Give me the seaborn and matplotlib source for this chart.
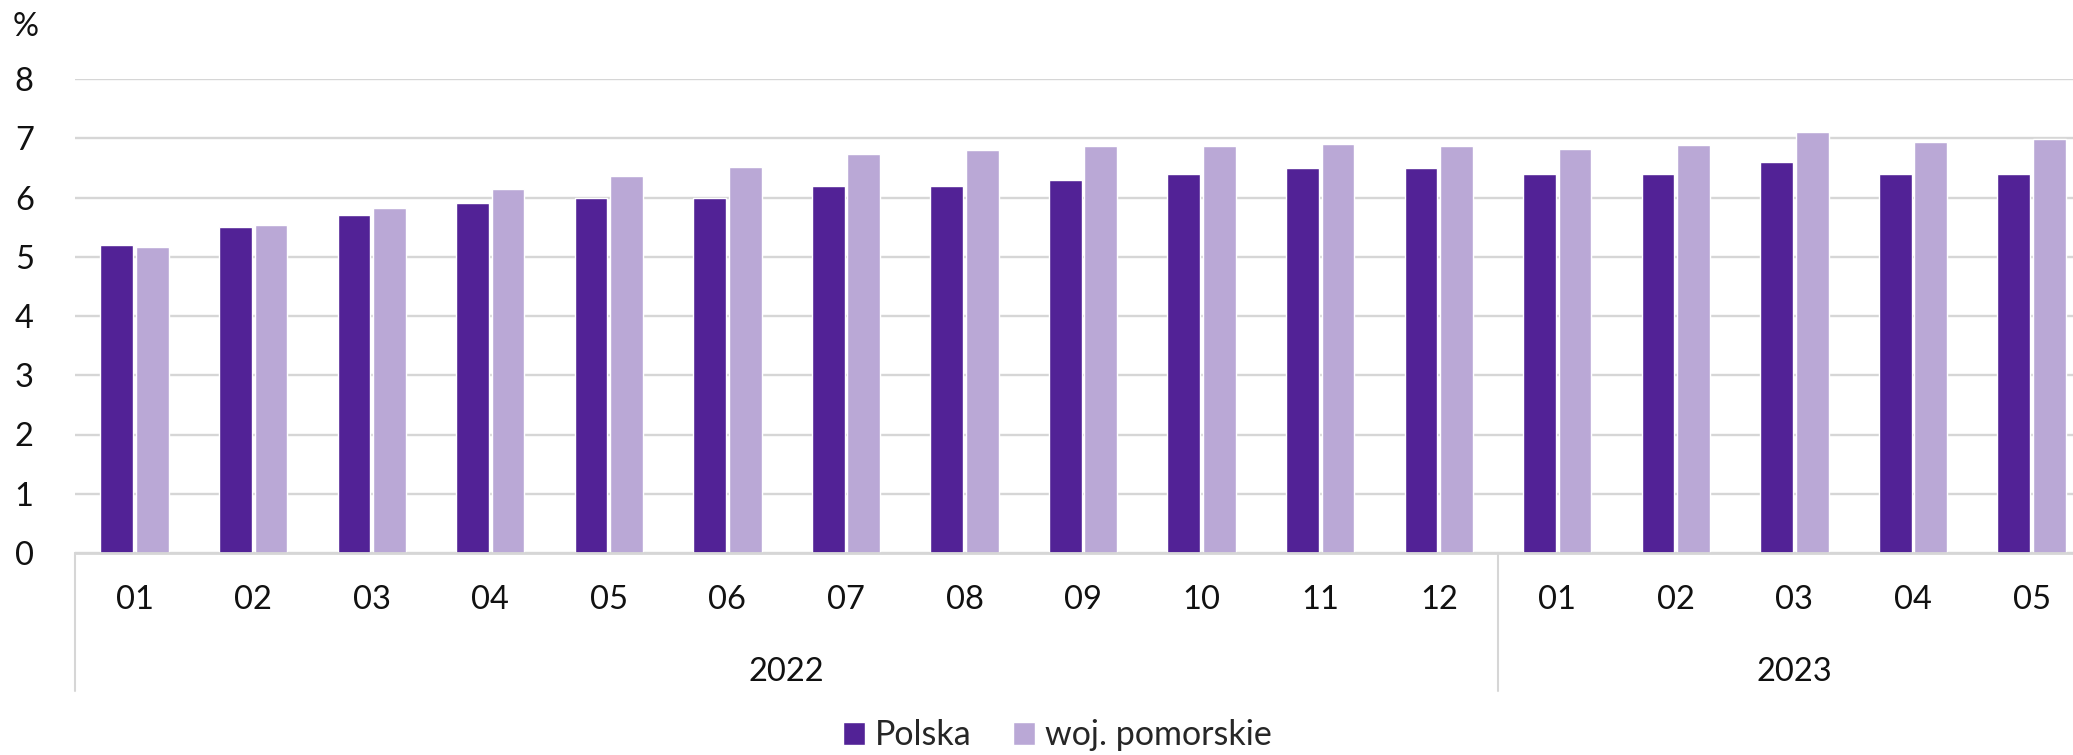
import matplotlib
matplotlib.use("Agg")
import matplotlib.pyplot as plt
import matplotlib.transforms as mtransforms
import seaborn as sns
import pandas as pd

months = ["01", "02", "03", "04", "05", "06", "07", "08", "09", "10", "11", "12",
          "01", "02", "03", "04", "05"]
years = ["2022"] * 12 + ["2023"] * 5
polska = [5.2, 5.5, 5.7, 5.9, 6.0, 6.0, 6.2, 6.2, 6.3, 6.4, 6.5, 6.5,
          6.4, 6.4, 6.6, 6.4, 6.4]
pomorskie = [5.17, 5.53, 5.83, 6.15, 6.37, 6.52, 6.73, 6.8, 6.87, 6.87, 6.91, 6.87,
             6.82, 6.89, 7.1, 6.93, 6.98]
series_names = ["Polska", "woj. pomorskie"]
colors = ["#522296", "#BAA8D6"]
yticks = [0, 1, 2, 3, 4, 5, 6, 7, 8]

keys = [f"{y}-{m}" for y, m in zip(years, months)]
df = pd.DataFrame({
    "key": keys * 2,
    "value": polska + pomorskie,
    "series": [series_names[0]] * len(keys) + [series_names[1]] * len(keys),
})

sns.set_theme(style="white")
plt.rcParams["font.family"] = ["Lato", "DejaVu Sans"]

FS = 23.5
fig = plt.figure(figsize=(20.73, 7.55), dpi=100)
ax = fig.add_axes([57 / 1568, 1 - 553 / 755, 1 - 57 / 1568, (553 - 79) / 755])

sns.barplot(data=df, x="key", y="value", hue="series", order=keys,
            hue_order=series_names, palette=colors, width=0.6, gap=0.08,
            saturation=1, edgecolor="white", linewidth=1, legend=True, ax=ax)

ax.set_ylim(0, 8)
ax.set_xlim(-0.5, 16.35)
ax.set_yticks(yticks)
ax.set_yticklabels([str(v) for v in yticks], fontsize=FS, color="#111111")
ax.set_xticks(range(len(keys)))
ax.set_xticklabels(months, fontsize=FS, color="#111111")
ax.tick_params(axis="both", length=0)
ax.tick_params(axis="y", pad=30)
ax.tick_params(axis="x", pad=23)
ax.set_xlabel("")
ax.set_ylabel("")
ax.yaxis.grid(True, color="#D6D6D6", linewidth=1.7)
ax.set_axisbelow(True)
for s in ["top", "right", "left"]:
    ax.spines[s].set_visible(False)
ax.spines["bottom"].set_color("#D6D6D6")
ax.spines["bottom"].set_linewidth(2)

trans = mtransforms.blended_transform_factory(ax.transData, ax.transAxes)
ybot = -(691 - 553) / (553 - 79)
for xs in [-0.5, 11.5]:
    ax.plot([xs, xs], [0, ybot], transform=trans, color="#D6D6D6",
            linewidth=1.5, clip_on=False)

year_labels = ["2022", "2023"]
year_ranges = [(0, 11), (12, 16)]
ylab = -(672 - 553) / (553 - 79)
for lab, (a, b) in zip(year_labels, year_ranges):
    ax.text((a + b) / 2, ylab, lab, transform=trans, ha="center", va="center",
            fontsize=FS, color="#111111")

fig.text(26 / 2073, 1 - 27 / 755, "%", ha="center", va="center",
         fontsize=FS, color="#111111")

leg = ax.get_legend()
handles, labels = ax.get_legend_handles_labels()
leg.remove()
fig.legend(handles, labels, loc="center", bbox_to_anchor=(0.51, 0.026),
           ncol=2, frameon=False, fontsize=FS + 1, handlelength=0.65,
           handleheight=0.65, handletextpad=0.3, columnspacing=1.2)

fig.savefig("out.png", dpi=100)
